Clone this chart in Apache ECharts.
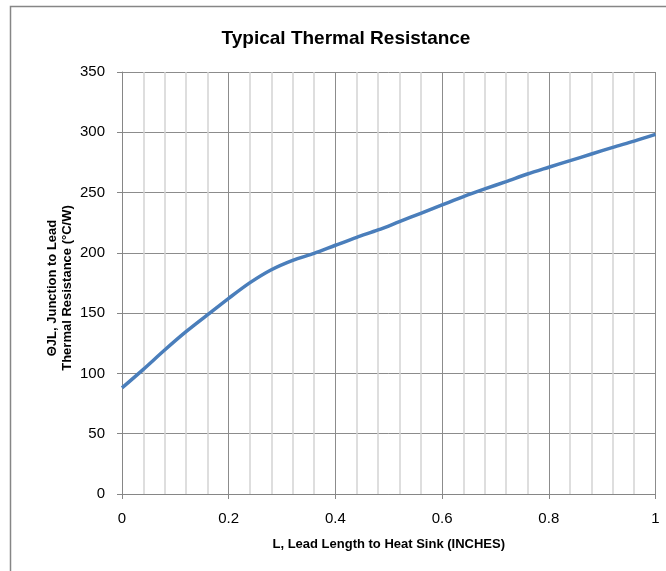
<!DOCTYPE html>
<html>
<head>
<meta charset="utf-8">
<script src="https://cdn.jsdelivr.net/npm/echarts@6/dist/echarts.min.js"></script>
<style>
html,body{margin:0;padding:0;background:#fff;}
#c{width:666px;height:571px;}
</style>
</head>
<body>
<div id="c"></div>
<script>
const leadLength = [0, 0.04, 0.08, 0.12, 0.16, 0.2, 0.24, 0.28, 0.32, 0.36, 0.4, 0.44, 0.48, 0.52, 0.56, 0.6, 0.64, 0.68, 0.72, 0.76, 0.8, 0.84, 0.88, 0.92, 0.96, 1.0];
const thermalResistance = [88, 103.4, 119.4, 134.6, 148.5, 162.3, 175.3, 186.0, 193.8, 199.6, 206.3, 212.9, 219, 225.9, 232.8, 239.7, 246.6, 253, 259.1, 265.4, 271, 276.5, 282, 287.5, 292.7, 298.3];
const titleText = 'Typical Thermal Resistance';
const xName = 'L, Lead Length to Heat Sink (INCHES)';
const yName = 'ΘJL, Junction to Lead\nThermal Resistance (°C/W)';

const chart = echarts.init(document.getElementById('c'), null, {renderer: 'canvas'});
const seriesData = leadLength.map((x, i) => [x, thermalResistance[i]]);
chart.setOption({
  animation: false,
  backgroundColor: '#fff',
  graphic: [{
    type: 'rect', silent: true, z: -10,
    shape: {x: 10.5, y: 6.5, width: 700, height: 600},
    style: {fill: 'none', stroke: '#868686', lineWidth: 1.5}
  }],
  title: {
    text: titleText, left: 341, top: 24, textAlign: 'center',
    textStyle: {fontFamily: 'Liberation Sans', fontWeight: 'bold', fontSize: 19, color: '#000'}
  },
  grid: {left: 122, right: 10.5, top: 72, bottom: 77, containLabel: false},
  xAxis: {
    type: 'value', min: 0, max: 1, interval: 0.2,
    name: xName, nameLocation: 'middle', nameGap: 44,
    nameTextStyle: {fontFamily: 'Liberation Sans', fontWeight: 'bold', fontSize: 13, color: '#000'},
    axisLine: {show: true, lineStyle: {color: '#868686', width: 1}},
    axisTick: {show: true, length: 5, lineStyle: {color: '#868686'}},
    axisLabel: {fontFamily: 'Liberation Sans', fontSize: 15, color: '#000', margin: 17,
      formatter: v => String(+v.toFixed(1))},
    splitLine: {show: true, lineStyle: {color: '#8c8c8c', width: 1}},
    minorTick: {show: false, splitNumber: 5},
    minorSplitLine: {show: true, lineStyle: {color: '#d4d4d4', width: 1.5}}
  },
  yAxis: {
    type: 'value', min: 0, max: 350, interval: 50,
    name: yName, nameLocation: 'middle', nameGap: 47, nameRotate: 90, nameMoveOverlap: false,
    nameTextStyle: {fontFamily: 'Liberation Sans', fontWeight: 'bold', fontSize: 13, color: '#000', lineHeight: 15,
      padding: [0, 10, 0, 0]},
    axisLine: {show: true, lineStyle: {color: '#868686', width: 1}},
    axisTick: {show: true, length: 5, lineStyle: {color: '#868686'}},
    axisLabel: {fontFamily: 'Liberation Sans', fontSize: 15, color: '#000', margin: 17},
    splitLine: {show: true, lineStyle: {color: '#8c8c8c', width: 1}}
  },
  series: [{
    type: 'line', data: seriesData, showSymbol: false, smooth: 0.3,
    lineStyle: {color: '#4a7ebb', width: 3.5}, z: 5
  }]
});
</script>
</body>
</html>
